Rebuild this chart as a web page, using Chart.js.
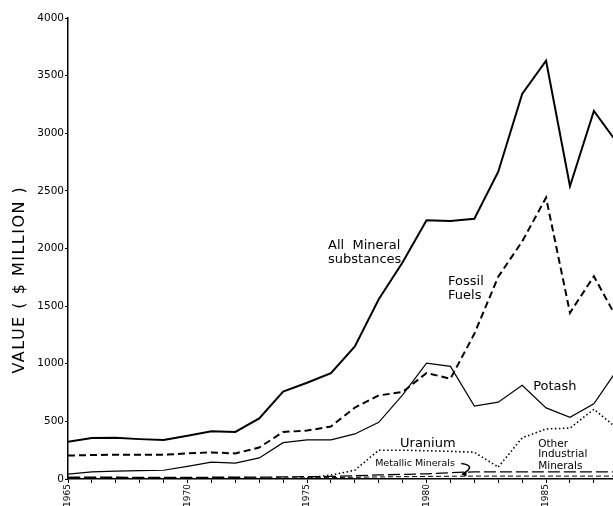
<!DOCTYPE html>
<html>
<head>
<meta charset="utf-8">
<script src="https://cdn.jsdelivr.net/npm/chart.js@4.4.1/dist/chart.umd.min.js"></script>
<style>
  html, body { margin: 0; padding: 0; background: #fff; }
  #wrap { width: 613px; height: 506px; position: relative; }
</style>
</head>
<body>
<div id="wrap"><canvas id="grafica"></canvas></div>
<script>
// años (eje X)
const years = [1965, 1966, 1967, 1968, 1969, 1970, 1971, 1972, 1973, 1974, 1975, 1976,
  1977, 1978, 1979, 1980, 1981, 1982, 1983, 1984, 1985, 1986, 1987, 1988];
const yearLabels = [1965, 1970, 1975, 1980, 1985];
const valueTicks = [0, 500, 1000, 1500, 2000, 2500, 3000, 3500, 4000];

// valores ($ millones)
const allMineral = [323, 355, 358, 346, 338, 375, 414, 408, 526, 758, 835, 918,
  1150, 1560, 1880, 2245, 2238, 2258, 2666, 3342, 3629, 2540, 3193, 2910];
const fossilFuels = [203, 208, 210, 210, 210, 222, 231, 222, 273, 408, 420, 456,
  620, 725, 755, 920, 870, 1260, 1755, 2061, 2441, 1442, 1759, 1380];
const potash = [42, 62, 68, 72, 76, 110, 146, 138, 183, 315, 340, 340,
  391, 492, 729, 1005, 977, 633, 667, 813, 617, 535, 653, 955];
const uranium = [null, null, null, null, null, null, null, null, null, null, 10, 34,
  76, 250, 250, 245, 240, 232, 104, null, null, null, null, null];
const otherIndustrial = [null, null, null, null, null, null, null, null, null, null, null, null,
  null, null, null, null, null, null, 104, 357, 434, 442, 605, 435];
const metallicLong = [15, 15, 15, 14, 14, 14, 15, 15, 16, 18, 20, 22,
  28, 35, 40, 45, 55, 62, 62, 62, 62, 62, 62, 62];
const metallicShort = [8, 8, 8, 8, 8, 8, 8, 8, 8, 9, 10, 12,
  15, 18, 20, 22, 24, 25, 25, 25, 25, 25, 25, 25];

function puntos(vals) {
  return years.map((y, i) => ({ x: y, y: vals[i] })).filter(p => p.y !== null);
}

const FONT = "'DejaVu Sans', sans-serif";

// etiquetas de texto sobre las líneas y título del eje Y
const rotulos = {
  id: "rotulos",
  afterDatasetsDraw(chart) {
    const c = chart.ctx;
    const sx = chart.scales.x, sy = chart.scales.y;
    c.save();
    c.fillStyle = "#000";
    c.textBaseline = "middle";
    c.textAlign = "left";
    const txt = (t, x, y, size) => {
      c.font = size + "px " + FONT;
      c.fillText(t, sx.getPixelForValue(x), sy.getPixelForValue(y));
    };
    txt("All  Mineral", 1975.88, 2025, 13);
    txt("substances", 1975.88, 1905, 13);
    txt("Fossil", 1980.9, 1715, 13);
    txt("Fuels", 1980.9, 1592, 13);
    txt("Potash", 1984.46, 802, 13);
    txt("Uranium", 1978.89, 308, 13);
    txt("Metallic Minerals", 1977.85, 135, 9.5);
    txt("Other", 1984.67, 300, 10.5);
    txt("Industrial", 1984.67, 211, 10.5);
    txt("Minerals", 1984.67, 114, 10.5);
    // flecha de Metallic Minerals
    const x0 = sx.getPixelForValue(1981.45), y0 = sy.getPixelForValue(135);
    const x1 = sx.getPixelForValue(1981.5), y1 = sy.getPixelForValue(40);
    c.strokeStyle = "#000";
    c.lineWidth = 1.6;
    c.beginPath();
    c.moveTo(x0, y0);
    c.quadraticCurveTo(x0 + 16, y0 + 2, x1, y1);
    c.stroke();
    c.beginPath();
    c.moveTo(x1 - 1, y1);
    c.lineTo(x1 + 4, y1 - 4);
    c.lineTo(x1 + 4, y1 + 2);
    c.closePath();
    c.fill();
    // título vertical
    c.translate(chart.chartArea.left - 48, sy.getPixelForValue(1730));
    c.rotate(-Math.PI / 2);
    c.textAlign = "center";
    c.font = "16px " + FONT;
    c.letterSpacing = "1.5px";
    c.fillText("VALUE ( $ MILLION )", 0, 0);
    c.restore();
  }
};

const ctx = document.getElementById("grafica").getContext("2d");
new Chart(ctx, {
  type: "line",
  data: {
    datasets: [
      { label: "All Mineral substances", data: puntos(allMineral), borderColor: "#000", borderWidth: 2 },
      { label: "Fossil Fuels", data: puntos(fossilFuels), borderColor: "#000", borderWidth: 2, borderDash: [7, 4] },
      { label: "Potash", data: puntos(potash), borderColor: "#000", borderWidth: 1.2 },
      { label: "Uranium", data: puntos(uranium), borderColor: "#000", borderWidth: 1.6, borderDash: [1.5, 2.5] },
      { label: "Other Industrial Minerals", data: puntos(otherIndustrial), borderColor: "#000", borderWidth: 1.6, borderDash: [1.5, 2.5] },
      { label: "Metallic Minerals", data: puntos(metallicLong), borderColor: "#000", borderWidth: 1.3, borderDash: [12, 4] },
      { label: "Metallic (2)", data: puntos(metallicShort), borderColor: "#000", borderWidth: 1, borderDash: [5, 3] }
    ]
  },
  options: {
    responsive: true,
    maintainAspectRatio: false,
    animation: false,
    layout: { padding: { top: 18, right: 0, left: 0, bottom: 0 } },
    elements: { point: { radius: 0 }, line: { tension: 0, fill: false } },
    plugins: { legend: { display: false }, tooltip: { enabled: false } },
    scales: {
      x: {
        type: "linear",
        min: 1965,
        max: 1987.8,
        afterBuildTicks(scale) {
          scale.ticks = years.filter(y => y <= 1987).map(y => ({ value: y }));
        },
        afterFit(scale) { scale.height = 27; },
        border: { display: true, color: "#000", width: 1.5 },
        grid: { drawOnChartArea: false, color: "#000", tickLength: 4, lineWidth: 1 },
        ticks: {
          autoSkip: false,
          minRotation: 90,
          maxRotation: 90,
          padding: 1,
          color: "#000",
          font: { family: FONT, size: 9 },
          callback: v => yearLabels.includes(v) ? String(v) : ""
        }
      },
      y: {
        min: 0,
        max: 4000,
        afterBuildTicks(scale) {
          scale.ticks = valueTicks.map(v => ({ value: v }));
        },
        afterFit(scale) { scale.width = 68; },
        border: { display: true, color: "#000", width: 1.5 },
        grid: { drawOnChartArea: false, color: "#000", tickLength: 3, lineWidth: 1 },
        ticks: {
          padding: 1,
          color: "#000",
          font: { family: FONT, size: 10.5 },
          callback: v => String(v)
        }
      }
    }
  },
  plugins: [rotulos]
});
</script>
</body>
</html>
